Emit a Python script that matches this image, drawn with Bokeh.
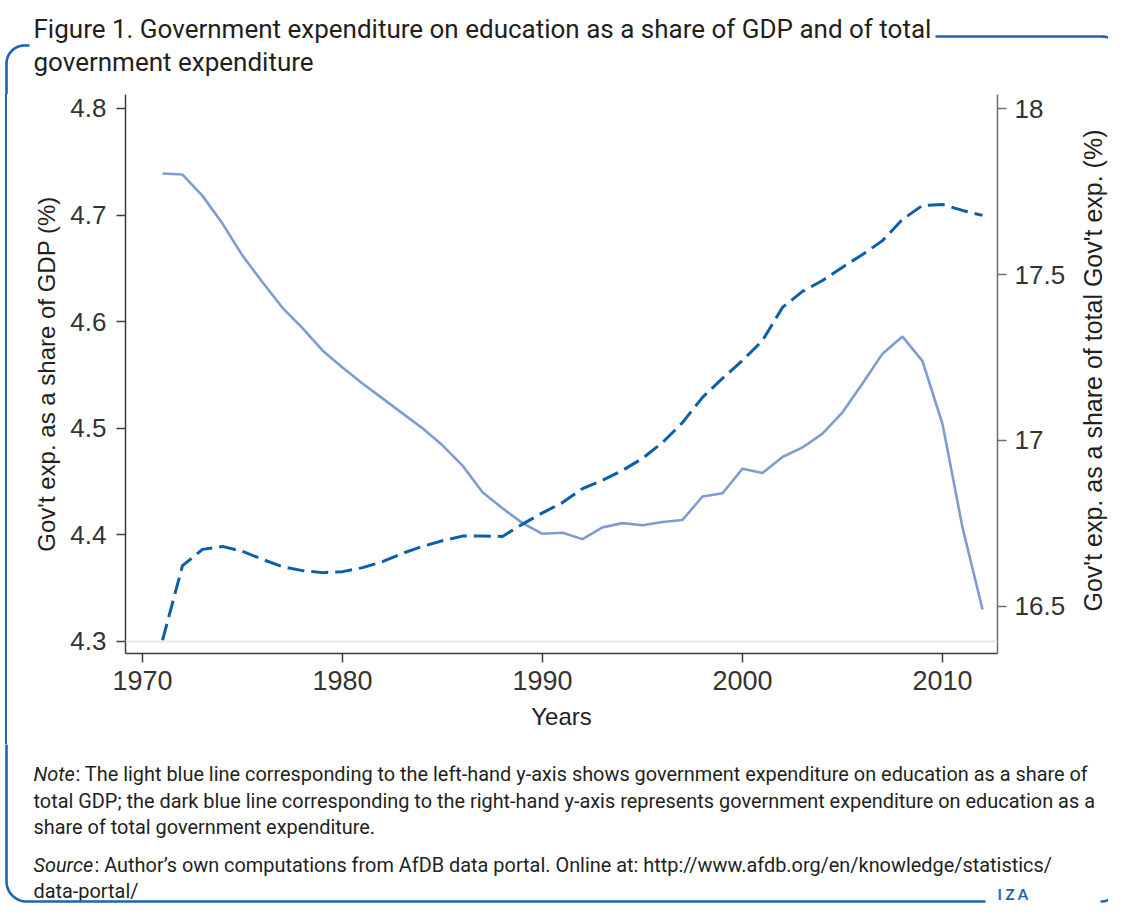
import math
from bokeh.plotting import figure
from bokeh.layouts import column, row
from bokeh.models import Range1d, LinearAxis, Span, FixedTicker, Div
from bokeh.core.properties import value
from bokeh.embed import file_html
from bokeh.resources import INLINE

# ---------------- data ----------------
years = list(range(1971, 2013))
gdp_share = [4.739, 4.738, 4.718, 4.692, 4.662, 4.637, 4.613, 4.594, 4.573, 4.557,
             4.542, 4.528, 4.514, 4.500, 4.484, 4.465, 4.440, 4.425, 4.411, 4.401,
             4.402, 4.396, 4.407, 4.411, 4.409, 4.412, 4.414, 4.436, 4.439, 4.462,
             4.458, 4.473, 4.482, 4.495, 4.515, 4.542, 4.570, 4.586, 4.563, 4.504,
             4.407, 4.330]
exp_share = [16.398, 16.623, 16.672, 16.681, 16.666, 16.642, 16.620, 16.608, 16.602, 16.605,
             16.617, 16.635, 16.660, 16.681, 16.698, 16.712, 16.712, 16.711, 16.748, 16.782,
             16.813, 16.855, 16.880, 16.910, 16.946, 16.994, 17.054, 17.130, 17.187, 17.241,
             17.301, 17.401, 17.449, 17.482, 17.522, 17.560, 17.602, 17.666, 17.708, 17.711,
             17.693, 17.678]
x_ticks = [1970, 1980, 1990, 2000, 2010]
left_ticks = [4.3, 4.4, 4.5, 4.6, 4.7, 4.8]
right_ticks = [16.5, 17, 17.5, 18]

title_lines = ["Figure 1. Government expenditure on education as a share of GDP and of total",
               "government expenditure"]
left_title = "Gov't exp. as a share of GDP (%)"
right_title = "Gov't exp. as a share of total Gov't exp. (%)"
x_title = "Years"
note_lines = ["The light blue line corresponding to the left-hand y-axis shows government expenditure on education as a share of",
              "total GDP; the dark blue line corresponding to the right-hand y-axis represents government expenditure on education as a",
              "share of total government expenditure."]
source_lines = ["Author\u2019s own computations from AfDB data portal. Online at: http://www.afdb.org/en/knowledge/statistics/",
                "data-portal/"]

# ---------------- styling ----------------
LIGHT = "#7f9bd3"
DARK = "#0a5fad"
BORDER = "#1d65b3"
TXT = "#231f20"
AX = "#3c3c3c"
BW = 2.6

TOTAL_W = 1108
TOP_H, MID_H, BOT_H = 94, 650, 160
LEFT_W, RIGHT_W = 16, 28
CHART_W = TOTAL_W - LEFT_W - RIGHT_W


def deco(w, h, x0, y0, y1=None):
    y1 = y0 + h if y1 is None else y1
    f = figure(width=w, height=h, output_backend="svg", toolbar_location=None,
               x_range=Range1d(x0, x0 + w), y_range=Range1d(y1, y0),
               x_axis_type=None, y_axis_type=None, min_border=0)
    f.outline_line_color = None
    f.background_fill_color = "white"
    f.border_fill_color = "white"
    return f


def txt(f, x, y, s, size, font="Roboto", style="normal", color=TXT, angle=0.0,
        align="left", baseline="alphabetic"):
    f.text(x=[x], y=[y], text=[s], text_font=value(font), text_font_size=value(size),
           text_font_style=style, text_color=color, angle=angle, text_align=align,
           text_baseline=baseline)


def arc(cx, cy, r, a0, a1, n=14):
    return [(cx + r * math.cos(a0 + (a1 - a0) * i / n), cy - r * math.sin(a0 + (a1 - a0) * i / n))
            for i in range(n + 1)]


def path(f, pts):
    f.line([q[0] for q in pts], [q[1] for q in pts], line_color=BORDER, line_width=BW)


# ---------------- top: title + top border ----------------
top = deco(TOTAL_W, TOP_H, 0, 0)
txt(top, 33, 28, title_lines[0], "26px")
txt(top, 33, 61, title_lines[1], "26px")
path(top, [(6, TOP_H + 2)] + arc(24, 63, 18, math.pi, math.pi / 2) + [(29, 45)])
path(top, [(935, 36)] + arc(1101, 58, 22, math.pi / 2, 0) + [(1123, TOP_H + 2)])

# ---------------- left strip (continuation of the frame's left border) ----------------
lstrip = Div(text="", width=LEFT_W, height=MID_H, margin=0,
             styles={"background": "linear-gradient(to right, white 4.7px, %s 4.7px, %s 7.3px, white 7.3px)"
                                   % (BORDER, BORDER)})

# ---------------- chart ----------------
FL, FR, FB = 109, 981, 559
p = figure(width=CHART_W, height=MID_H, output_backend="svg", toolbar_location=None,
           x_range=Range1d(1969.15, 2012.75), y_range=Range1d(4.2887, 4.8131),
           min_border_left=FL, min_border_right=CHART_W - FR,
           min_border_top=0, min_border_bottom=MID_H - FB)
p.extra_y_ranges = {"right": Range1d(16.3584, 18.0422)}
p.outline_line_color = None
p.xgrid.visible = False
p.ygrid.visible = False
p.background_fill_color = "white"
p.border_fill_color = "white"


def style_axis(ax, ticks, color=AX):
    ax.ticker = FixedTicker(ticks=ticks)
    ax.minor_tick_line_color = None
    ax.major_tick_in = 0
    ax.major_tick_out = 9
    ax.major_tick_line_color = color
    ax.major_tick_line_width = 1.5
    ax.axis_line_color = color
    ax.axis_line_width = 1.5
    ax.major_label_text_font = "Liberation Sans"
    ax.major_label_text_font_size = "26px"
    ax.major_label_text_color = "#333333"
    ax.axis_label_text_font = "Liberation Sans"
    ax.axis_label_text_font_size = "24px"
    ax.axis_label_text_font_style = "normal"
    ax.axis_label_text_color = TXT


xa = p.xaxis[0]
style_axis(xa, x_ticks)
xa.major_label_text_font_size = "27px"
xa.axis_label = x_title
xa.major_label_standoff = 8
xa.axis_label_standoff = 10

ya = p.yaxis[0]
style_axis(ya, left_ticks)
ya.axis_label = left_title
ya.major_label_standoff = 10
ya.axis_label_standoff = 7

ra = LinearAxis(y_range_name="right")
style_axis(ra, right_ticks, color="#6e6e6e")
ra.major_label_standoff = 8
ra.major_label_overrides = {17: "17", 18: "18"}
p.add_layout(ra, "right")

p.add_layout(Span(location=4.3, dimension="width", line_color="#e4e4e4", line_width=2))

p.line(years, gdp_share, line_color=LIGHT, line_width=2.6)
p.line(years, exp_share, y_range_name="right", line_color=DARK, line_width=3,
       line_dash="17 7")

# ---------------- right strip: right axis title (its frame aligns with the chart frame) ----------------
rstrip = deco(RIGHT_W, MID_H, TOTAL_W - RIGHT_W, TOP_H, y1=TOP_H + FB)
txt(rstrip, 1092, 370, right_title, "25px", font="Liberation Sans", angle=math.pi / 2,
    align="center")

# ---------------- bottom: note, source, logo, bottom border ----------------
y0 = TOP_H + MID_H
bot = deco(TOTAL_W, BOT_H, 0, y0)
FS = "19.9px"
txt(bot, 33, 774, "Note", FS, style="italic")
txt(bot, 75, 774, ": " + note_lines[0], FS)
txt(bot, 33, 801, note_lines[1], FS)
txt(bot, 33, 827, note_lines[2], FS)
txt(bot, 33, 865, "Source", FS, style="italic")
txt(bot, 94, 865, ": " + source_lines[0], FS)
txt(bot, 33, 891, source_lines[1], FS)
txt(bot, 997, 893, "I Z A", "15px", font="Lato", style="bold", color=BORDER)
BY = 901
path(bot, [(6, y0 - 2)] + arc(26, BY - 20, 20, math.pi, 1.5 * math.pi) + [(985, BY)])
path(bot, [(1100, BY)] + arc(1100, BY - 22, 22, -math.pi / 2, 0) + [(1122, y0 - 2)])

layout = column(top, row(lstrip, p, rstrip, spacing=0), bot, spacing=0)

open("out.html", "w").write(file_html(layout, INLINE))
